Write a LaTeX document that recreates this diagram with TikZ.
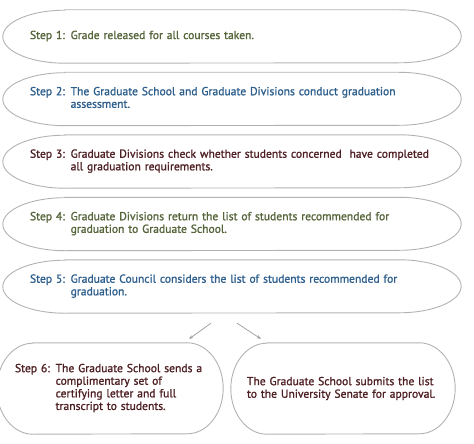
\documentclass[tikz,border=0pt]{standalone}
\usepackage{fontspec}
\setmainfont{PT Sans}[FakeBold=1.3]
\usetikzlibrary{arrows.meta}
\definecolor{olivetxt}{HTML}{56643A}
\definecolor{bluetxt}{HTML}{2D5E8C}
\definecolor{maroontxt}{HTML}{4E1F22}
\definecolor{outline}{HTML}{B2B2B2}
\definecolor{arrowgray}{HTML}{9A9A9A}
\newcommand\drawoval[3]{%
  \draw[boxline] ([xshift=#2]#1.north west) -- ([xshift=-#2]#1.north east)
    arc[start angle=90,end angle=-90,x radius=#2,y radius=#3]
    -- ([xshift=#2]#1.south west)
    arc[start angle=270,end angle=90,x radius=#2,y radius=#3] -- cycle;}
\begin{document}
\begin{tikzpicture}[x=1pt,y=-1pt,
  boxline/.style={draw=outline,line width=0.9pt},
  txtfont/.style={font=\fontsize{11.6}{12.6}\selectfont},
  stepbox/.style={txtfont,inner ysep=0pt,inner xsep=27pt,minimum width=458pt,minimum height=53pt,
     text width=404pt,align=left},
  lowbox/.style={txtfont,inner ysep=0pt,minimum height=91pt,align=left},
  arr/.style={draw=arrowgray,line width=0.7pt,-{Stealth[length=4pt,width=3.5pt]}}]
\useasboundingbox (0,0) rectangle (474,444);
\node[stepbox,text=olivetxt] (s1) at (232,36.5) {\begin{tabular}{@{}l@{ }l@{}}Step 1: & Grade released for all courses taken.\end{tabular}};
\node[stepbox,text=bluetxt] (s2) at (232,99) {\begin{tabular}{@{}l@{ }l@{}}Step 2: & The Graduate School and Graduate Divisions conduct graduation\\ & assessment.\end{tabular}};
\node[stepbox,text=maroontxt] (s3) at (232,161.5) {\begin{tabular}{@{}l@{ }l@{}}Step 3: & Graduate Divisions check whether students concerned\ \ have completed\\ & all graduation requirements.\end{tabular}};
\node[stepbox,text=olivetxt] (s4) at (232,224) {\begin{tabular}{@{}l@{ }l@{}}Step 4: & Graduate Divisions return the list of students recommended for\\ & graduation to Graduate School.\end{tabular}};
\node[stepbox,text=bluetxt] (s5) at (232,286.5) {\begin{tabular}{@{}l@{ }l@{}}Step 5: & Graduate Council considers the list of students recommended for\\ & graduation.\end{tabular}};
\node[lowbox,inner xsep=18pt,minimum width=226pt,text width=190pt,text=maroontxt] (s6) at (110,388.5) {\begin{tabular}{@{}l@{ }l@{}}Step 6: & The Graduate School sends a\\ & complimentary set of\\ & certifying letter and full\\ & transcript to students.\end{tabular}};
\node[lowbox,inner xsep=16pt,minimum width=224pt,text width=192pt,text=maroontxt] (s7) at (343,388.5) {The Graduate School submits the list\\to the University Senate for approval.};
\foreach \n in {s1,s2,s3,s4,s5} {\drawoval{\n}{62pt}{26.5pt}}
\drawoval{s6}{36pt}{45.5pt}
\drawoval{s7}{36pt}{45.5pt}
\draw[arr] ([xshift=-21pt,yshift=-10pt]s5.south) -- ([xshift=-34pt,yshift=4pt]s6.north east);
\draw[arr] ([xshift=5pt,yshift=-10pt]s5.south) -- ([xshift=30pt,yshift=4pt]s7.north west);
\end{tikzpicture}
\end{document}
